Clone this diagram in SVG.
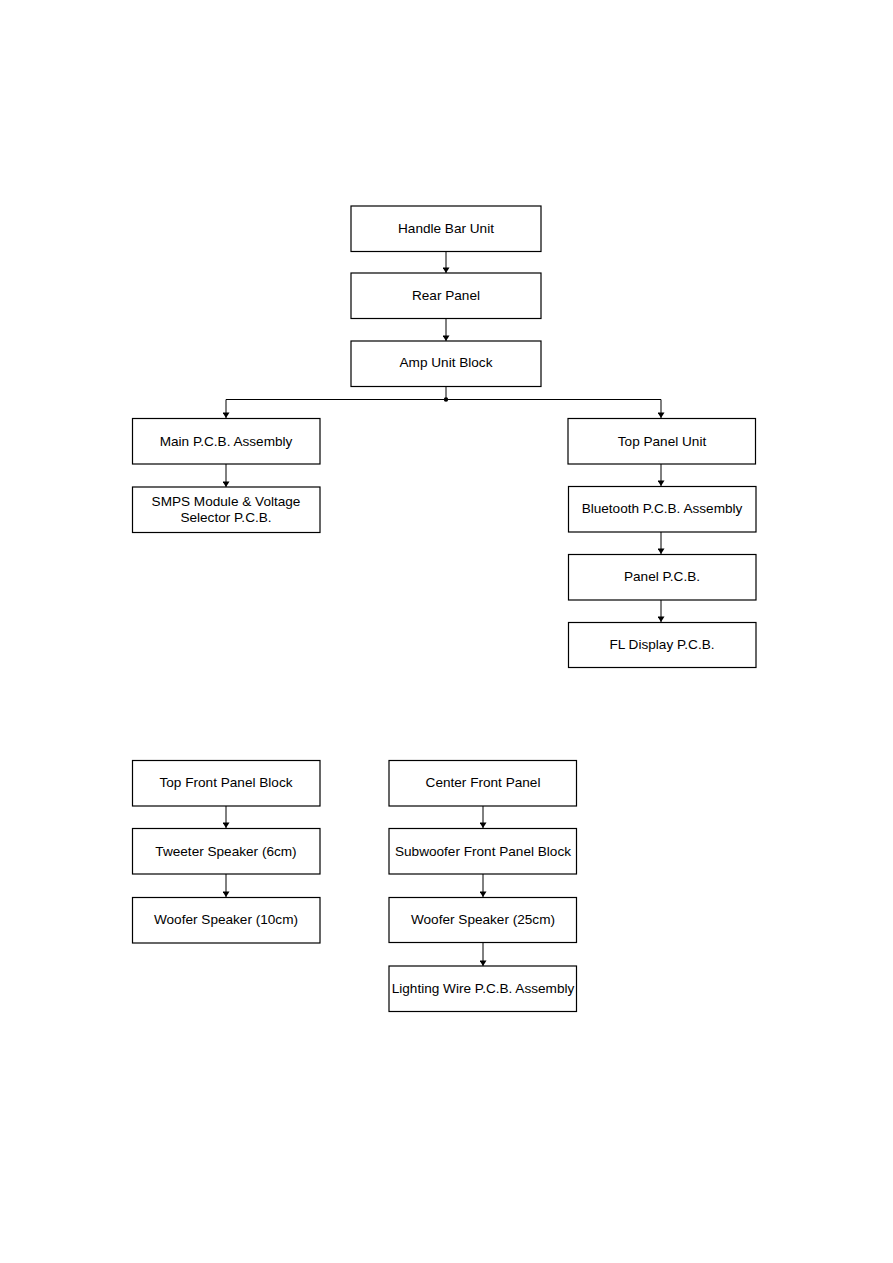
<svg xmlns="http://www.w3.org/2000/svg" width="893" height="1263" viewBox="0 0 893 1263">
<style>
.box{fill:#fff;stroke:#000;stroke-width:1.2}
.lbl{font-family:"Liberation Sans",Arial,sans-serif;font-size:13.6px;fill:#000;text-anchor:middle}
.ln{fill:none;stroke:#000;stroke-width:1}
</style>
<defs>
<marker id="ah" viewBox="0 0 8 10" refX="8" refY="5" markerWidth="6" markerHeight="7" orient="auto" markerUnits="userSpaceOnUse">
<path d="M0,0 L8,5 L0,10 Z" fill="#000"/>
</marker>
</defs>
<rect width="893" height="1263" fill="#fff"/>
<g id="connectors">
<line class="ln" x1="446" y1="252" x2="446" y2="273" marker-end="url(#ah)"/>
<line class="ln" x1="446" y1="319" x2="446" y2="341" marker-end="url(#ah)"/>
<line class="ln" x1="446" y1="387" x2="446" y2="399.5"/>
<polyline class="ln" points="226,399.5 661,399.5 661,418" marker-end="url(#ah)"/>
<line class="ln" x1="226" y1="399.5" x2="226" y2="418" marker-end="url(#ah)"/>
<circle cx="446" cy="399.5" r="2.2" fill="#000"/>
<line class="ln" x1="226" y1="464" x2="226" y2="487" marker-end="url(#ah)"/>
<line class="ln" x1="661" y1="464" x2="661" y2="486" marker-end="url(#ah)"/>
<line class="ln" x1="661" y1="532" x2="661" y2="554" marker-end="url(#ah)"/>
<line class="ln" x1="661" y1="600" x2="661" y2="622" marker-end="url(#ah)"/>
<line class="ln" x1="226" y1="806" x2="226" y2="828" marker-end="url(#ah)"/>
<line class="ln" x1="226" y1="874" x2="226" y2="897" marker-end="url(#ah)"/>
<line class="ln" x1="483" y1="806" x2="483" y2="828" marker-end="url(#ah)"/>
<line class="ln" x1="483" y1="874" x2="483" y2="897" marker-end="url(#ah)"/>
<line class="ln" x1="483" y1="943" x2="483" y2="966" marker-end="url(#ah)"/>
</g>
<g id="handle-bar-unit"><rect class="box" x="351" y="206" width="190" height="45.5"/><text class="lbl" x="446" y="233">Handle Bar Unit</text></g>
<g id="rear-panel"><rect class="box" x="351" y="273" width="190" height="45.5"/><text class="lbl" x="446" y="300">Rear Panel</text></g>
<g id="amp-unit-block"><rect class="box" x="351" y="341" width="190" height="45.5"/><text class="lbl" x="446" y="367">Amp Unit Block</text></g>
<g id="main-pcb"><rect class="box" x="132.5" y="418.5" width="187.5" height="45.5"/><text class="lbl" x="226" y="446">Main P.C.B. Assembly</text></g>
<g id="smps"><rect class="box" x="132.5" y="487" width="187.5" height="45.5"/><text class="lbl" x="226" y="506">SMPS Module &amp; Voltage</text><text class="lbl" x="226" y="522">Selector P.C.B.</text></g>
<g id="top-panel-unit"><rect class="box" x="568" y="418.5" width="187.5" height="45.5"/><text class="lbl" x="662" y="446">Top Panel Unit</text></g>
<g id="bluetooth-pcb"><rect class="box" x="568.5" y="486.5" width="187.5" height="45.5"/><text class="lbl" x="662" y="513">Bluetooth P.C.B. Assembly</text></g>
<g id="panel-pcb"><rect class="box" x="568.5" y="554.5" width="187.5" height="45.5"/><text class="lbl" x="662" y="581">Panel P.C.B.</text></g>
<g id="fl-display-pcb"><rect class="box" x="568.5" y="622.5" width="187.5" height="45"/><text class="lbl" x="662" y="649">FL Display P.C.B.</text></g>
<g id="top-front-panel-block"><rect class="box" x="132.5" y="760.5" width="187.5" height="45.5"/><text class="lbl" x="226" y="787">Top Front Panel Block</text></g>
<g id="tweeter"><rect class="box" x="132.5" y="828.5" width="187.5" height="45.5"/><text class="lbl" x="226" y="856">Tweeter Speaker (6cm)</text></g>
<g id="woofer-10"><rect class="box" x="132.5" y="897.5" width="187.5" height="45.5"/><text class="lbl" x="226" y="924">Woofer Speaker (10cm)</text></g>
<g id="center-front-panel"><rect class="box" x="389" y="760.5" width="187.5" height="45.5"/><text class="lbl" x="483" y="787">Center Front Panel</text></g>
<g id="subwoofer-front-panel-block"><rect class="box" x="389" y="828.5" width="187.5" height="45.5"/><text class="lbl" x="483" y="856">Subwoofer Front Panel Block</text></g>
<g id="woofer-25"><rect class="box" x="389" y="897.5" width="187.5" height="45"/><text class="lbl" x="483" y="924">Woofer Speaker (25cm)</text></g>
<g id="lighting-wire-pcb"><rect class="box" x="389" y="966" width="187.5" height="45.5"/><text class="lbl" x="483" y="993">Lighting Wire P.C.B. Assembly</text></g>
</svg>
